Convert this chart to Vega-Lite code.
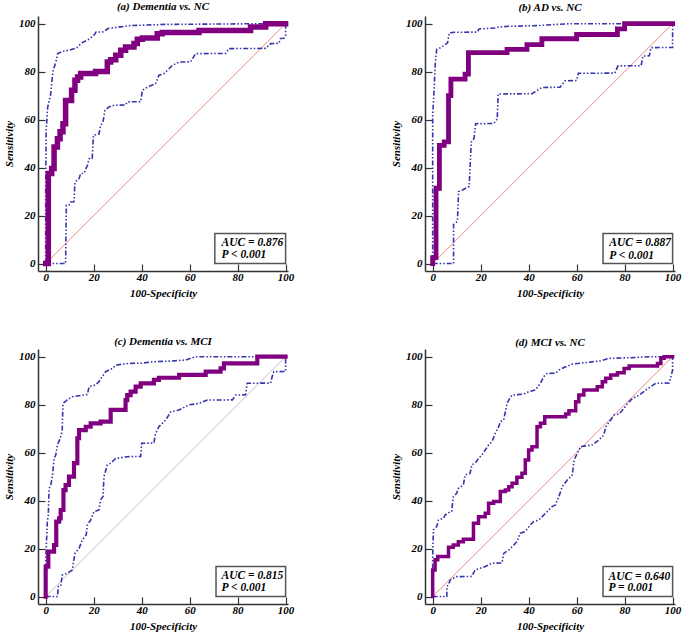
{
"$schema":"https://vega.github.io/schema/vega-lite/v6.json",
"padding":{"left":3,"top":0,"right":2,"bottom":2},
"background":"white",
"data":{"values":[
{"panel":"a","series":"roc","x":0,"y":0},{"panel":"a","series":"roc","x":1.1,"y":37.5},{"panel":"a","series":"roc","x":2.5,"y":39.6},{"panel":"a","series":"roc","x":3.5,"y":48.6},{"panel":"a","series":"roc","x":4.9,"y":52},{"panel":"a","series":"roc","x":6,"y":54.9},{"panel":"a","series":"roc","x":7.2,"y":58.3},{"panel":"a","series":"roc","x":8.3,"y":68},{"panel":"a","series":"roc","x":10.8,"y":72.2},{"panel":"a","series":"roc","x":12.2,"y":76.4},{"panel":"a","series":"roc","x":13.3,"y":77.8},{"panel":"a","series":"roc","x":14.6,"y":79.2},{"panel":"a","series":"roc","x":20.8,"y":80.1},{"panel":"a","series":"roc","x":25.7,"y":84},{"panel":"a","series":"roc","x":27.1,"y":85},{"panel":"a","series":"roc","x":29.2,"y":86.8},{"panel":"a","series":"roc","x":31.3,"y":88.9},{"panel":"a","series":"roc","x":33.3,"y":90.3},{"panel":"a","series":"roc","x":36.8,"y":91.7},{"panel":"a","series":"roc","x":38.2,"y":93.5},{"panel":"a","series":"roc","x":40.3,"y":94},{"panel":"a","series":"roc","x":46.5,"y":95.8},{"panel":"a","series":"roc","x":48.6,"y":96.3},{"panel":"a","series":"roc","x":63.9,"y":97.2},{"panel":"a","series":"roc","x":85.4,"y":98.6},{"panel":"a","series":"roc","x":91.7,"y":100},{"panel":"a","series":"roc","x":100,"y":100},
{"panel":"a","series":"upper","x":0,"y":0},{"panel":"a","series":"upper","x":0,"y":30},{"panel":"a","series":"upper","x":0.2,"y":55},{"panel":"a","series":"upper","x":0.8,"y":65},{"panel":"a","series":"upper","x":2,"y":70},{"panel":"a","series":"upper","x":3,"y":80},{"panel":"a","series":"upper","x":4.5,"y":85},{"panel":"a","series":"upper","x":5,"y":87.5},{"panel":"a","series":"upper","x":7,"y":88.5},{"panel":"a","series":"upper","x":10,"y":89},{"panel":"a","series":"upper","x":13,"y":90},{"panel":"a","series":"upper","x":15,"y":92},{"panel":"a","series":"upper","x":18,"y":93.5},{"panel":"a","series":"upper","x":20,"y":95},{"panel":"a","series":"upper","x":21,"y":96.5},{"panel":"a","series":"upper","x":24,"y":96.6},{"panel":"a","series":"upper","x":26,"y":98},{"panel":"a","series":"upper","x":30,"y":98.5},{"panel":"a","series":"upper","x":35,"y":99.2},{"panel":"a","series":"upper","x":50,"y":99.7},{"panel":"a","series":"upper","x":65,"y":99.8},{"panel":"a","series":"upper","x":90,"y":100},{"panel":"a","series":"upper","x":100,"y":100},
{"panel":"a","series":"lower","x":0,"y":0},{"panel":"a","series":"lower","x":8.3,"y":0},{"panel":"a","series":"lower","x":8.6,"y":24.3},{"panel":"a","series":"lower","x":9.7,"y":24.4},{"panel":"a","series":"lower","x":10.4,"y":25.7},{"panel":"a","series":"lower","x":11.8,"y":25.8},{"panel":"a","series":"lower","x":12.2,"y":34},{"panel":"a","series":"lower","x":13.9,"y":35.4},{"panel":"a","series":"lower","x":14.6,"y":37.5},{"panel":"a","series":"lower","x":16,"y":37.6},{"panel":"a","series":"lower","x":17.4,"y":41},{"panel":"a","series":"lower","x":18.1,"y":43.7},{"panel":"a","series":"lower","x":19.4,"y":43.8},{"panel":"a","series":"lower","x":19.9,"y":53.5},{"panel":"a","series":"lower","x":22.2,"y":54},{"panel":"a","series":"lower","x":22.9,"y":57.6},{"panel":"a","series":"lower","x":23.9,"y":59},{"panel":"a","series":"lower","x":24.7,"y":63.9},{"panel":"a","series":"lower","x":26.4,"y":65.3},{"panel":"a","series":"lower","x":28.5,"y":66},{"panel":"a","series":"lower","x":33.3,"y":66.1},{"panel":"a","series":"lower","x":34,"y":67.4},{"panel":"a","series":"lower","x":39.6,"y":67.5},{"panel":"a","series":"lower","x":40.3,"y":72.2},{"panel":"a","series":"lower","x":42.4,"y":73.6},{"panel":"a","series":"lower","x":45.8,"y":75},{"panel":"a","series":"lower","x":47.2,"y":78.5},{"panel":"a","series":"lower","x":49.3,"y":79.2},{"panel":"a","series":"lower","x":51.4,"y":81.2},{"panel":"a","series":"lower","x":52.8,"y":82.6},{"panel":"a","series":"lower","x":55.6,"y":84},{"panel":"a","series":"lower","x":60.4,"y":84.1},{"panel":"a","series":"lower","x":62.5,"y":87.5},{"panel":"a","series":"lower","x":75,"y":87.6},{"panel":"a","series":"lower","x":76.4,"y":89.6},{"panel":"a","series":"lower","x":91.7,"y":89.7},{"panel":"a","series":"lower","x":93.8,"y":91.7},{"panel":"a","series":"lower","x":97.2,"y":91.8},{"panel":"a","series":"lower","x":97.9,"y":93.8},{"panel":"a","series":"lower","x":99.3,"y":93.9},{"panel":"a","series":"lower","x":100,"y":95},{"panel":"a","series":"lower","x":100,"y":100},
{"panel":"b","series":"roc","x":0,"y":0},{"panel":"b","series":"roc","x":0,"y":2.5},{"panel":"b","series":"roc","x":1.4,"y":31.4},{"panel":"b","series":"roc","x":2.8,"y":49.3},{"panel":"b","series":"roc","x":4.8,"y":50.7},{"panel":"b","series":"roc","x":6.6,"y":70},{"panel":"b","series":"roc","x":7.6,"y":76.9},{"panel":"b","series":"roc","x":13.5,"y":79},{"panel":"b","series":"roc","x":14.9,"y":87.9},{"panel":"b","series":"roc","x":31,"y":89.3},{"panel":"b","series":"roc","x":39.3,"y":91.3},{"panel":"b","series":"roc","x":45.5,"y":93.7},{"panel":"b","series":"roc","x":60,"y":95.5},{"panel":"b","series":"roc","x":77,"y":97.8},{"panel":"b","series":"roc","x":80,"y":100},{"panel":"b","series":"roc","x":100,"y":100},
{"panel":"b","series":"upper","x":0,"y":0},{"panel":"b","series":"upper","x":0,"y":61.7},{"panel":"b","series":"upper","x":0.4,"y":68.6},{"panel":"b","series":"upper","x":1.1,"y":83.7},{"panel":"b","series":"upper","x":1.7,"y":89.3},{"panel":"b","series":"upper","x":3.4,"y":90},{"panel":"b","series":"upper","x":5.2,"y":91.3},{"panel":"b","series":"upper","x":6.2,"y":92},{"panel":"b","series":"upper","x":6.9,"y":96.1},{"panel":"b","series":"upper","x":9,"y":96.4},{"panel":"b","series":"upper","x":18.6,"y":96.5},{"panel":"b","series":"upper","x":19.3,"y":97.8},{"panel":"b","series":"upper","x":26.2,"y":98.2},{"panel":"b","series":"upper","x":27.6,"y":98.6},{"panel":"b","series":"upper","x":31.7,"y":98.9},{"panel":"b","series":"upper","x":44.1,"y":99.2},{"panel":"b","series":"upper","x":49.7,"y":99.6},{"panel":"b","series":"upper","x":57.9,"y":100},{"panel":"b","series":"upper","x":100,"y":100},
{"panel":"b","series":"lower","x":0,"y":0},{"panel":"b","series":"lower","x":8.7,"y":0},{"panel":"b","series":"lower","x":8.7,"y":16.3},{"panel":"b","series":"lower","x":10.3,"y":17.6},{"panel":"b","series":"lower","x":10.8,"y":30},{"panel":"b","series":"lower","x":12.4,"y":30.7},{"panel":"b","series":"lower","x":15.2,"y":32.1},{"panel":"b","series":"lower","x":16.1,"y":50.7},{"panel":"b","series":"lower","x":17.2,"y":52.1},{"panel":"b","series":"lower","x":17.9,"y":58.3},{"panel":"b","series":"lower","x":25.5,"y":58.4},{"panel":"b","series":"lower","x":26.9,"y":60.3},{"panel":"b","series":"lower","x":27.3,"y":70.7},{"panel":"b","series":"lower","x":41.4,"y":70.8},{"panel":"b","series":"lower","x":45.5,"y":73.4},{"panel":"b","series":"lower","x":53.1,"y":73.5},{"panel":"b","series":"lower","x":55.2,"y":76.2},{"panel":"b","series":"lower","x":60,"y":76.3},{"panel":"b","series":"lower","x":60.7,"y":79.3},{"panel":"b","series":"lower","x":75.9,"y":79.4},{"panel":"b","series":"lower","x":77.2,"y":82.4},{"panel":"b","series":"lower","x":86.9,"y":82.5},{"panel":"b","series":"lower","x":87.6,"y":86.5},{"panel":"b","series":"lower","x":90.3,"y":86.6},{"panel":"b","series":"lower","x":91,"y":90},{"panel":"b","series":"lower","x":100,"y":90.1},{"panel":"b","series":"lower","x":100,"y":100},
{"panel":"c","series":"roc","x":0,"y":0},{"panel":"c","series":"roc","x":0,"y":12.5},{"panel":"c","series":"roc","x":1.1,"y":18.75},{"panel":"c","series":"roc","x":3.5,"y":21.5},{"panel":"c","series":"roc","x":4.4,"y":31.25},{"panel":"c","series":"roc","x":5.6,"y":32.6},{"panel":"c","series":"roc","x":6.25,"y":36.1},{"panel":"c","series":"roc","x":7.4,"y":44.4},{"panel":"c","series":"roc","x":8.3,"y":46.5},{"panel":"c","series":"roc","x":9.7,"y":50},{"panel":"c","series":"roc","x":11.8,"y":55.6},{"panel":"c","series":"roc","x":13.2,"y":66},{"panel":"c","series":"roc","x":13.9,"y":69.4},{"panel":"c","series":"roc","x":16.7,"y":70.8},{"panel":"c","series":"roc","x":18.75,"y":72.2},{"panel":"c","series":"roc","x":22.9,"y":72.9},{"panel":"c","series":"roc","x":27.1,"y":77.8},{"panel":"c","series":"roc","x":33.3,"y":81.9},{"panel":"c","series":"roc","x":34,"y":84},{"panel":"c","series":"roc","x":35.4,"y":85.4},{"panel":"c","series":"roc","x":37.5,"y":87.5},{"panel":"c","series":"roc","x":39.6,"y":88.9},{"panel":"c","series":"roc","x":45.1,"y":90.3},{"panel":"c","series":"roc","x":47.2,"y":91.2},{"panel":"c","series":"roc","x":55.6,"y":92.4},{"panel":"c","series":"roc","x":66.7,"y":93.75},{"panel":"c","series":"roc","x":72.9,"y":95.1},{"panel":"c","series":"roc","x":74.3,"y":97.2},{"panel":"c","series":"roc","x":88.2,"y":100},{"panel":"c","series":"roc","x":100,"y":100},
{"panel":"c","series":"upper","x":0,"y":0},{"panel":"c","series":"upper","x":0,"y":14.6},{"panel":"c","series":"upper","x":0.7,"y":31.25},{"panel":"c","series":"upper","x":1.1,"y":34},{"panel":"c","series":"upper","x":1.4,"y":45},{"panel":"c","series":"upper","x":2.1,"y":46.5},{"panel":"c","series":"upper","x":2.8,"y":50},{"panel":"c","series":"upper","x":3.5,"y":57.6},{"panel":"c","series":"upper","x":4.2,"y":59},{"panel":"c","series":"upper","x":4.9,"y":63.2},{"panel":"c","series":"upper","x":5.8,"y":65.3},{"panel":"c","series":"upper","x":6.5,"y":67.4},{"panel":"c","series":"upper","x":6.9,"y":69.4},{"panel":"c","series":"upper","x":7.2,"y":80.5},{"panel":"c","series":"upper","x":9,"y":82},{"panel":"c","series":"upper","x":11.1,"y":83.3},{"panel":"c","series":"upper","x":14.6,"y":83.8},{"panel":"c","series":"upper","x":17.4,"y":84.3},{"panel":"c","series":"upper","x":18.1,"y":87.5},{"panel":"c","series":"upper","x":20.8,"y":88.2},{"panel":"c","series":"upper","x":22.2,"y":89.6},{"panel":"c","series":"upper","x":25,"y":93.75},{"panel":"c","series":"upper","x":27.8,"y":95.1},{"panel":"c","series":"upper","x":29.2,"y":96.5},{"panel":"c","series":"upper","x":34.7,"y":97.2},{"panel":"c","series":"upper","x":40.3,"y":97.3},{"panel":"c","series":"upper","x":44.4,"y":97.9},{"panel":"c","series":"upper","x":52.8,"y":98.2},{"panel":"c","series":"upper","x":58.3,"y":98.6},{"panel":"c","series":"upper","x":62.5,"y":100},{"panel":"c","series":"upper","x":100,"y":100},
{"panel":"c","series":"lower","x":0,"y":0},{"panel":"c","series":"lower","x":4.9,"y":0},{"panel":"c","series":"lower","x":5.3,"y":4.2},{"panel":"c","series":"lower","x":6.25,"y":4.3},{"panel":"c","series":"lower","x":6.9,"y":9},{"panel":"c","series":"lower","x":9,"y":9.7},{"panel":"c","series":"lower","x":11.1,"y":11.1},{"panel":"c","series":"lower","x":12.2,"y":18},{"panel":"c","series":"lower","x":13.9,"y":20.1},{"panel":"c","series":"lower","x":15.3,"y":23.6},{"panel":"c","series":"lower","x":16.9,"y":25.7},{"panel":"c","series":"lower","x":17.4,"y":29.9},{"panel":"c","series":"lower","x":18.75,"y":31.9},{"panel":"c","series":"lower","x":20.1,"y":35.4},{"panel":"c","series":"lower","x":22.2,"y":36.1},{"panel":"c","series":"lower","x":22.9,"y":40.3},{"panel":"c","series":"lower","x":23.9,"y":41.7},{"panel":"c","series":"lower","x":24.3,"y":50},{"panel":"c","series":"lower","x":25.7,"y":54.9},{"panel":"c","series":"lower","x":27.1,"y":55.6},{"panel":"c","series":"lower","x":29.2,"y":57.6},{"panel":"c","series":"lower","x":34,"y":58.3},{"panel":"c","series":"lower","x":39.6,"y":58.4},{"panel":"c","series":"lower","x":40,"y":63.9},{"panel":"c","series":"lower","x":45.1,"y":64},{"panel":"c","series":"lower","x":45.8,"y":68},{"panel":"c","series":"lower","x":47.2,"y":70.8},{"panel":"c","series":"lower","x":48.6,"y":72.2},{"panel":"c","series":"lower","x":50,"y":73.6},{"panel":"c","series":"lower","x":52.1,"y":77},{"panel":"c","series":"lower","x":55.6,"y":77.8},{"panel":"c","series":"lower","x":59.7,"y":79.9},{"panel":"c","series":"lower","x":63.9,"y":80.5},{"panel":"c","series":"lower","x":67.4,"y":81.9},{"panel":"c","series":"lower","x":77.8,"y":82},{"panel":"c","series":"lower","x":79.2,"y":84},{"panel":"c","series":"lower","x":83.3,"y":84.1},{"panel":"c","series":"lower","x":84,"y":88.9},{"panel":"c","series":"lower","x":93.75,"y":89},{"panel":"c","series":"lower","x":94.4,"y":91.7},{"panel":"c","series":"lower","x":95.1,"y":93.75},{"panel":"c","series":"lower","x":100,"y":93.8},{"panel":"c","series":"lower","x":100,"y":100},
{"panel":"d","series":"roc","x":0,"y":0},{"panel":"d","series":"roc","x":0,"y":11.1},{"panel":"d","series":"roc","x":1,"y":15.3},{"panel":"d","series":"roc","x":2.1,"y":16.7},{"panel":"d","series":"roc","x":6.6,"y":20.6},{"panel":"d","series":"roc","x":8.6,"y":21.5},{"panel":"d","series":"roc","x":10.7,"y":22.9},{"panel":"d","series":"roc","x":12.8,"y":23.9},{"panel":"d","series":"roc","x":17,"y":30.6},{"panel":"d","series":"roc","x":19.1,"y":33.3},{"panel":"d","series":"roc","x":21.9,"y":34.7},{"panel":"d","series":"roc","x":23.3,"y":38.9},{"panel":"d","series":"roc","x":25.4,"y":39.6},{"panel":"d","series":"roc","x":28.2,"y":43.75},{"panel":"d","series":"roc","x":30.3,"y":44.4},{"panel":"d","series":"roc","x":31.7,"y":45.8},{"panel":"d","series":"roc","x":33.1,"y":47.2},{"panel":"d","series":"roc","x":35.1,"y":49.7},{"panel":"d","series":"roc","x":37.2,"y":51.4},{"panel":"d","series":"roc","x":38.6,"y":56.9},{"panel":"d","series":"roc","x":40,"y":61.1},{"panel":"d","series":"roc","x":41.4,"y":62.5},{"panel":"d","series":"roc","x":43.5,"y":70.8},{"panel":"d","series":"roc","x":44.9,"y":72.2},{"panel":"d","series":"roc","x":46.7,"y":75},{"panel":"d","series":"roc","x":55.4,"y":76.1},{"panel":"d","series":"roc","x":56.8,"y":77.5},{"panel":"d","series":"roc","x":59.6,"y":81.25},{"panel":"d","series":"roc","x":60.9,"y":84},{"panel":"d","series":"roc","x":63,"y":86.1},{"panel":"d","series":"roc","x":68.6,"y":87.5},{"panel":"d","series":"roc","x":70.7,"y":89.6},{"panel":"d","series":"roc","x":72.1,"y":91},{"panel":"d","series":"roc","x":74.2,"y":92.4},{"panel":"d","series":"roc","x":77,"y":93.3},{"panel":"d","series":"roc","x":79.8,"y":95.1},{"panel":"d","series":"roc","x":81.9,"y":96.1},{"panel":"d","series":"roc","x":93.7,"y":97.2},{"panel":"d","series":"roc","x":95.1,"y":99.3},{"panel":"d","series":"roc","x":96.5,"y":100},{"panel":"d","series":"roc","x":100,"y":100},
{"panel":"d","series":"upper","x":0,"y":0},{"panel":"d","series":"upper","x":0,"y":16.7},{"panel":"d","series":"upper","x":0.3,"y":27.8},{"panel":"d","series":"upper","x":1.7,"y":29.2},{"panel":"d","series":"upper","x":2.4,"y":31.9},{"panel":"d","series":"upper","x":4.5,"y":32.6},{"panel":"d","series":"upper","x":5.2,"y":34},{"panel":"d","series":"upper","x":7.3,"y":35.4},{"panel":"d","series":"upper","x":7.9,"y":35.5},{"panel":"d","series":"upper","x":8.6,"y":41.7},{"panel":"d","series":"upper","x":10,"y":43},{"panel":"d","series":"upper","x":10.7,"y":45.1},{"panel":"d","series":"upper","x":12.8,"y":46.5},{"panel":"d","series":"upper","x":13.5,"y":50.7},{"panel":"d","series":"upper","x":15.6,"y":51.4},{"panel":"d","series":"upper","x":16.3,"y":54.9},{"panel":"d","series":"upper","x":17.7,"y":55.6},{"panel":"d","series":"upper","x":19.1,"y":57.6},{"panel":"d","series":"upper","x":20.5,"y":59},{"panel":"d","series":"upper","x":21.9,"y":61.1},{"panel":"d","series":"upper","x":23.3,"y":63.2},{"panel":"d","series":"upper","x":24.7,"y":64.6},{"panel":"d","series":"upper","x":26.1,"y":68},{"panel":"d","series":"upper","x":27.5,"y":70.8},{"panel":"d","series":"upper","x":28.2,"y":72.9},{"panel":"d","series":"upper","x":29.6,"y":73.6},{"panel":"d","series":"upper","x":31,"y":80.5},{"panel":"d","series":"upper","x":31.7,"y":81.9},{"panel":"d","series":"upper","x":33.1,"y":84},{"panel":"d","series":"upper","x":37.9,"y":84.4},{"panel":"d","series":"upper","x":40,"y":85.4},{"panel":"d","series":"upper","x":42.8,"y":86.1},{"panel":"d","series":"upper","x":44.9,"y":88.9},{"panel":"d","series":"upper","x":46.3,"y":91.7},{"panel":"d","series":"upper","x":47.7,"y":93},{"panel":"d","series":"upper","x":51.2,"y":93.1},{"panel":"d","series":"upper","x":52.6,"y":94.4},{"panel":"d","series":"upper","x":55.4,"y":95.8},{"panel":"d","series":"upper","x":58.2,"y":96.9},{"panel":"d","series":"upper","x":63.7,"y":97.5},{"panel":"d","series":"upper","x":70,"y":98.3},{"panel":"d","series":"upper","x":73.5,"y":99.3},{"panel":"d","series":"upper","x":83.3,"y":99.6},{"panel":"d","series":"upper","x":90.2,"y":100},{"panel":"d","series":"upper","x":100,"y":100},
{"panel":"d","series":"lower","x":0,"y":0},{"panel":"d","series":"lower","x":5.9,"y":0},{"panel":"d","series":"lower","x":5.9,"y":4.2},{"panel":"d","series":"lower","x":6.6,"y":4.9},{"panel":"d","series":"lower","x":7.3,"y":6.9},{"panel":"d","series":"lower","x":8.6,"y":7.6},{"panel":"d","series":"lower","x":10,"y":8.3},{"panel":"d","series":"lower","x":16.3,"y":8.4},{"panel":"d","series":"lower","x":17.7,"y":11.1},{"panel":"d","series":"lower","x":19.8,"y":11.8},{"panel":"d","series":"lower","x":21.9,"y":12.5},{"panel":"d","series":"lower","x":24.7,"y":13.9},{"panel":"d","series":"lower","x":28.9,"y":14},{"panel":"d","series":"lower","x":29.6,"y":18},{"panel":"d","series":"lower","x":31.7,"y":19.4},{"panel":"d","series":"lower","x":33.8,"y":21.5},{"panel":"d","series":"lower","x":35.1,"y":22.9},{"panel":"d","series":"lower","x":36.5,"y":26.4},{"panel":"d","series":"lower","x":38.6,"y":27.1},{"panel":"d","series":"lower","x":40.7,"y":29.9},{"panel":"d","series":"lower","x":42.1,"y":31.25},{"panel":"d","series":"lower","x":44.2,"y":31.9},{"panel":"d","series":"lower","x":46.3,"y":34},{"panel":"d","series":"lower","x":47.7,"y":35.4},{"panel":"d","series":"lower","x":49.8,"y":37.5},{"panel":"d","series":"lower","x":51.2,"y":38.2},{"panel":"d","series":"lower","x":52.6,"y":41.7},{"panel":"d","series":"lower","x":54,"y":45.8},{"panel":"d","series":"lower","x":56.1,"y":48.6},{"panel":"d","series":"lower","x":58.2,"y":50.7},{"panel":"d","series":"lower","x":58.9,"y":56.9},{"panel":"d","series":"lower","x":60.3,"y":59.7},{"panel":"d","series":"lower","x":61.6,"y":62.5},{"panel":"d","series":"lower","x":66.5,"y":63.2},{"panel":"d","series":"lower","x":69.3,"y":65.3},{"panel":"d","series":"lower","x":71.4,"y":67.4},{"panel":"d","series":"lower","x":72.1,"y":70.8},{"panel":"d","series":"lower","x":74.2,"y":73.6},{"panel":"d","series":"lower","x":75.6,"y":75.7},{"panel":"d","series":"lower","x":77.7,"y":76.1},{"panel":"d","series":"lower","x":79.8,"y":78.5},{"panel":"d","series":"lower","x":81.2,"y":80.5},{"panel":"d","series":"lower","x":83.3,"y":82.6},{"panel":"d","series":"lower","x":86.1,"y":84},{"panel":"d","series":"lower","x":88.8,"y":86.1},{"panel":"d","series":"lower","x":90.9,"y":87.5},{"panel":"d","series":"lower","x":93,"y":88.9},{"panel":"d","series":"lower","x":98.6,"y":89},{"panel":"d","series":"lower","x":100,"y":94.4},{"panel":"d","series":"lower","x":100,"y":100},
{"panel":"a","series":"diag","x":0,"y":0},{"panel":"a","series":"diag","x":100,"y":100},
{"panel":"b","series":"diag","x":0,"y":0},{"panel":"b","series":"diag","x":100,"y":100},
{"panel":"c","series":"diag","x":0,"y":0},{"panel":"c","series":"diag","x":100,"y":100},
{"panel":"d","series":"diag","x":0,"y":0},{"panel":"d","series":"diag","x":100,"y":100},
{"panel":"a","series":"box","x":70.5,"x2":100,"y":0,"y2":12.5},
{"panel":"b","series":"box","x":71,"x2":100,"y":0,"y2":12.5},
{"panel":"c","series":"box","x":71,"x2":100,"y":0,"y2":12.5},
{"panel":"d","series":"box","x":71,"x2":100,"y":0,"y2":12.5},
{"panel":"a","series":"label","x":73.3,"y":8.7,"text":"AUC = 0.876"},{"panel":"a","series":"label","x":73.3,"y":3.5,"text":"P < 0.001"},
{"panel":"b","series":"label","x":73.6,"y":8.5,"text":"AUC = 0.887"},{"panel":"b","series":"label","x":73.6,"y":3.3,"text":"P < 0.001"},
{"panel":"c","series":"label","x":73.3,"y":8.5,"text":"AUC = 0.815"},{"panel":"c","series":"label","x":73.3,"y":3.5,"text":"P < 0.001"},
{"panel":"d","series":"label","x":73.3,"y":8.3,"text":"AUC = 0.640"},{"panel":"d","series":"label","x":73.3,"y":3.5,"text":"P = 0.001"}
]},
"facet":{"field":"panel","type":"nominal","header":{"title":null,"labelExpr":"datum.value == 'a' ? '(a) Dementia vs. NC' : datum.value == 'b' ? '(b) AD vs. NC' : datum.value == 'c' ? '(c) Dementia vs. MCI' : '(d) MCI vs. NC'","labelFont":"Liberation Serif","labelFontStyle":"italic","labelFontWeight":"bold","labelFontSize":11,"labelPadding":1,"labelColor":"#000"}},
"columns":2,
"spacing":{"row":78,"column":137},
"bounds":"flush",
"resolve":{"axis":{"x":"independent","y":"independent"}},
"spec":{
"width":250,"height":255,
"layer":[
{"transform":[{"filter":"datum.series === 'diag' && datum.panel !== 'c'"}],
 "mark":{"type":"line","strokeWidth":1,"color":"#ee8888"},
 "encoding":{
  "x":{"field":"x","type":"quantitative","scale":{"domain":[-3.2,101],"nice":false,"zero":false},
   "axis":{"title":"100-Specificity","values":[0,5,10,15,20,25,30,35,40,45,50,55,60,65,70,75,80,85,90,95,100],"labelExpr":"datum.value % 20 === 0 ? datum.label : ''","tickSize":{"condition":{"test":"datum.value % 20 === 0","value":-7},"value":-4},"labelPadding":7,"titlePadding":5}},
  "y":{"field":"y","type":"quantitative","scale":{"domain":[-3.1,103.2],"nice":false,"zero":false},
   "axis":{"title":"Sensitivity","values":[0,5,10,15,20,25,30,35,40,45,50,55,60,65,70,75,80,85,90,95,100],"labelExpr":"datum.value % 20 === 0 ? datum.label : ''","tickSize":{"condition":{"test":"datum.value % 20 === 0","value":-7},"value":-4},"labelPadding":10,"titlePadding":4}}
 }},
{"transform":[{"filter":"datum.series === 'diag' && datum.panel === 'c'"}],
 "mark":{"type":"line","strokeWidth":0.9,"color":"#cdb0b8"},
 "encoding":{"x":{"field":"x","type":"quantitative"},"y":{"field":"y","type":"quantitative"}}},
{"transform":[{"filter":"datum.series === 'upper' || datum.series === 'lower'"}],
 "mark":{"type":"line","strokeWidth":1.6,"color":"#3535aa","strokeDash":[5,2,1.5,2,1.5,2]},
 "encoding":{"x":{"field":"x","type":"quantitative"},"y":{"field":"y","type":"quantitative"},"detail":{"field":"series"},"order":[{"field":"x"},{"field":"y"}]}},
{"transform":[{"filter":"datum.series === 'roc'"}],
 "mark":{"type":"line","color":"#800080","interpolate":"step-after","strokeCap":"square"},
 "encoding":{"x":{"field":"x","type":"quantitative"},"y":{"field":"y","type":"quantitative"},"order":[{"field":"x"},{"field":"y"}],
  "size":{"field":"panel","type":"nominal","scale":{"domain":["a","b","c","d"],"range":[5.5,3.5,5.5,5.5]},"legend":null}}},
{"transform":[{"filter":"datum.series === 'box'"}],
 "mark":{"type":"rect","fill":"white","stroke":"#555","strokeWidth":1.5},
 "encoding":{"x":{"field":"x","type":"quantitative"},"x2":{"field":"x2"},"y":{"field":"y","type":"quantitative"},"y2":{"field":"y2"}}},
{"transform":[{"filter":"datum.series === 'label'"}],
 "mark":{"type":"text","align":"left","baseline":"middle","font":"Liberation Serif","fontStyle":"italic","fontWeight":"bold","fontSize":11.5,"color":"#000"},
 "encoding":{"x":{"field":"x","type":"quantitative"},"y":{"field":"y","type":"quantitative"},"text":{"field":"text"}}}
]},
"config":{
 "view":{"stroke":null},
 "axis":{"grid":false,"domainColor":"#333","domainWidth":1.5,"tickColor":"#333","tickWidth":1.2,"labelFont":"Liberation Serif","labelFontStyle":"italic","labelFontWeight":"bold","labelFontSize":11,"labelColor":"#000","titleFont":"Liberation Serif","titleFontStyle":"italic","titleFontWeight":"bold","titleFontSize":11,"titleColor":"#000"}
}
}
